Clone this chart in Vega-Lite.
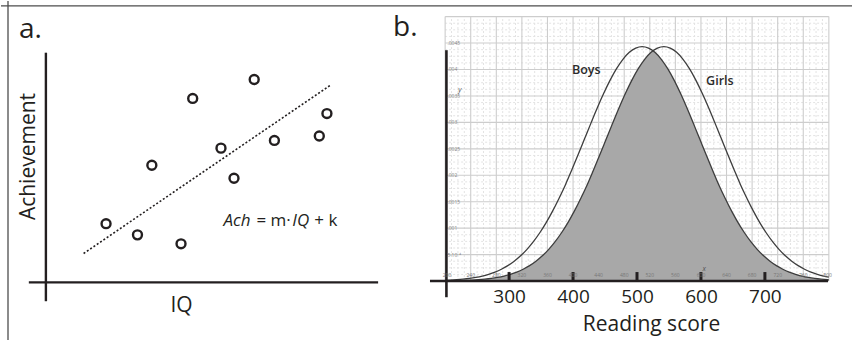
{
  "$schema": "https://vega.github.io/schema/vega-lite/v6.json",
  "width": 853,
  "height": 341,
  "autosize": {"type": "fit", "contains": "padding"},
  "padding": 0,
  "background": "white",
  "config": {"view": {"stroke": null}, "font": "Open Sans", "text": {"font": "Open Sans", "color": "#231f20"}},
  "datasets": {
    "points": [
      {"iq": 73.4, "ach": 23.6}, {"iq": 80.4, "ach": 19.1}, {"iq": 83.6, "ach": 47.1},
      {"iq": 90.1, "ach": 15.5}, {"iq": 92.7, "ach": 74.0}, {"iq": 99.0, "ach": 54.0},
      {"iq": 101.9, "ach": 41.9}, {"iq": 106.4, "ach": 81.6}, {"iq": 110.9, "ach": 57.1},
      {"iq": 120.9, "ach": 58.9}, {"iq": 122.6, "ach": 67.9}
    ],
    "trend": [{"iq": 68.4, "ach": 11.6}, {"iq": 123.6, "ach": 79.6}],
    "frameA": [{"iq": 50, "iq2": 239.556, "ach": 111.2, "ach2": 111.2}, {"iq": 51.56, "iq2": 51.56, "ach": -23.2, "ach2": 113.2}],
    "axesA": [{"iq": 56.2, "iq2": 134, "ach": 0, "ach2": 0}, {"iq": 60, "iq2": 60, "ach": -7.6, "ach2": 92.4}],
    "panelA": [{"label": "a.", "iq": 54, "ach": 98.4}],
    "eqItalic": [{"t": "Ach", "iq": 99.56, "ach": 22.5}, {"t": "IQ", "iq": 114.89, "ach": 22.5}],
    "eqNormal": [{"t": "= m·", "iq": 106.89, "ach": 22.5}, {"t": "+ k", "iq": 119.78, "ach": 22.5}],
    "majorV": [{"score": 200}, {"score": 240}, {"score": 280}, {"score": 320}, {"score": 360}, {"score": 400}, {"score": 440}, {"score": 480}, {"score": 520}, {"score": 560}, {"score": 600}, {"score": 640}, {"score": 680}, {"score": 720}, {"score": 760}, {"score": 800}],
    "minorV": [{"score": 210}, {"score": 220}, {"score": 230}, {"score": 250}, {"score": 260}, {"score": 270}, {"score": 290}, {"score": 300}, {"score": 310}, {"score": 330}, {"score": 340}, {"score": 350}, {"score": 370}, {"score": 380}, {"score": 390}, {"score": 410}, {"score": 420}, {"score": 430}, {"score": 450}, {"score": 460}, {"score": 470}, {"score": 490}, {"score": 500}, {"score": 510}, {"score": 530}, {"score": 540}, {"score": 550}, {"score": 570}, {"score": 580}, {"score": 590}, {"score": 610}, {"score": 620}, {"score": 630}, {"score": 650}, {"score": 660}, {"score": 670}, {"score": 690}, {"score": 700}, {"score": 710}, {"score": 730}, {"score": 740}, {"score": 750}, {"score": 770}, {"score": 780}, {"score": 790}],
    "majorH": [{"density": 0.0005}, {"density": 0.001}, {"density": 0.0015}, {"density": 0.002}, {"density": 0.0025}, {"density": 0.003}, {"density": 0.0035}, {"density": 0.004}, {"density": 0.0045}, {"density": 0.005}],
    "minorH": [{"density": 0.000125}, {"density": 0.00025}, {"density": 0.000375}, {"density": 0.000625}, {"density": 0.00075}, {"density": 0.000875}, {"density": 0.001125}, {"density": 0.00125}, {"density": 0.001375}, {"density": 0.001625}, {"density": 0.00175}, {"density": 0.001875}, {"density": 0.002125}, {"density": 0.00225}, {"density": 0.002375}, {"density": 0.002625}, {"density": 0.00275}, {"density": 0.002875}, {"density": 0.003125}, {"density": 0.00325}, {"density": 0.003375}, {"density": 0.003625}, {"density": 0.00375}, {"density": 0.003875}, {"density": 0.004125}, {"density": 0.00425}, {"density": 0.004375}, {"density": 0.004625}, {"density": 0.00475}, {"density": 0.004875}],
    "curves": [
      {"curve": "Boys", "score": 200, "density": 0.0000127}, {"curve": "Boys", "score": 208, "density": 0.0000171}, {"curve": "Boys", "score": 218, "density": 0.0000247}, {"curve": "Boys", "score": 228, "density": 0.0000351}, {"curve": "Boys", "score": 238, "density": 0.0000492}, {"curve": "Boys", "score": 248, "density": 0.0000683}, {"curve": "Boys", "score": 258, "density": 0.0000936}, {"curve": "Boys", "score": 268, "density": 0.000127}, {"curve": "Boys", "score": 278, "density": 0.000169}, {"curve": "Boys", "score": 288, "density": 0.000223}, {"curve": "Boys", "score": 298, "density": 0.000291}, {"curve": "Boys", "score": 308, "density": 0.000375}, {"curve": "Boys", "score": 318, "density": 0.000477}, {"curve": "Boys", "score": 328, "density": 0.000600}, {"curve": "Boys", "score": 338, "density": 0.000745}, {"curve": "Boys", "score": 348, "density": 0.000913}, {"curve": "Boys", "score": 358, "density": 0.001105}, {"curve": "Boys", "score": 368, "density": 0.001322}, {"curve": "Boys", "score": 378, "density": 0.001562}, {"curve": "Boys", "score": 388, "density": 0.001818}, {"curve": "Boys", "score": 398, "density": 0.002100}, {"curve": "Boys", "score": 408, "density": 0.002391}, {"curve": "Boys", "score": 418, "density": 0.002689}, {"curve": "Boys", "score": 428, "density": 0.002986}, {"curve": "Boys", "score": 438, "density": 0.003276}, {"curve": "Boys", "score": 448, "density": 0.003549}, {"curve": "Boys", "score": 458, "density": 0.003799}, {"curve": "Boys", "score": 468, "density": 0.004016}, {"curve": "Boys", "score": 478, "density": 0.004193}, {"curve": "Boys", "score": 488, "density": 0.004325}, {"curve": "Boys", "score": 498, "density": 0.004405}, {"curve": "Boys", "score": 508, "density": 0.004433}, {"curve": "Boys", "score": 518, "density": 0.004405}, {"curve": "Boys", "score": 528, "density": 0.004325}, {"curve": "Boys", "score": 538, "density": 0.004193}, {"curve": "Boys", "score": 548, "density": 0.004016}, {"curve": "Boys", "score": 558, "density": 0.003799}, {"curve": "Boys", "score": 568, "density": 0.003549}, {"curve": "Boys", "score": 578, "density": 0.003276}, {"curve": "Boys", "score": 588, "density": 0.002986}, {"curve": "Boys", "score": 598, "density": 0.002689}, {"curve": "Boys", "score": 608, "density": 0.002391}, {"curve": "Boys", "score": 618, "density": 0.002100}, {"curve": "Boys", "score": 628, "density": 0.001818}, {"curve": "Boys", "score": 638, "density": 0.001562}, {"curve": "Boys", "score": 648, "density": 0.001322}, {"curve": "Boys", "score": 658, "density": 0.001105}, {"curve": "Boys", "score": 668, "density": 0.000913}, {"curve": "Boys", "score": 678, "density": 0.000745}, {"curve": "Boys", "score": 688, "density": 0.000600}, {"curve": "Boys", "score": 698, "density": 0.000477}, {"curve": "Boys", "score": 708, "density": 0.000375}, {"curve": "Boys", "score": 718, "density": 0.000291}, {"curve": "Boys", "score": 728, "density": 0.000223}, {"curve": "Boys", "score": 738, "density": 0.000169}, {"curve": "Boys", "score": 748, "density": 0.000127}, {"curve": "Boys", "score": 758, "density": 0.0000936}, {"curve": "Boys", "score": 768, "density": 0.0000683}, {"curve": "Boys", "score": 778, "density": 0.0000492}, {"curve": "Boys", "score": 788, "density": 0.0000351}, {"curve": "Boys", "score": 798, "density": 0.0000247}, {"curve": "Boys", "score": 800, "density": 0.0000230},
      {"curve": "Girls", "score": 200, "density": 0.0000032}, {"curve": "Girls", "score": 202, "density": 0.0000035}, {"curve": "Girls", "score": 212, "density": 0.0000053}, {"curve": "Girls", "score": 222, "density": 0.0000080}, {"curve": "Girls", "score": 232, "density": 0.0000118}, {"curve": "Girls", "score": 242, "density": 0.0000171}, {"curve": "Girls", "score": 252, "density": 0.0000247}, {"curve": "Girls", "score": 262, "density": 0.0000351}, {"curve": "Girls", "score": 272, "density": 0.0000492}, {"curve": "Girls", "score": 282, "density": 0.0000683}, {"curve": "Girls", "score": 292, "density": 0.0000936}, {"curve": "Girls", "score": 302, "density": 0.000127}, {"curve": "Girls", "score": 312, "density": 0.000169}, {"curve": "Girls", "score": 322, "density": 0.000223}, {"curve": "Girls", "score": 332, "density": 0.000291}, {"curve": "Girls", "score": 342, "density": 0.000375}, {"curve": "Girls", "score": 352, "density": 0.000477}, {"curve": "Girls", "score": 362, "density": 0.000600}, {"curve": "Girls", "score": 372, "density": 0.000745}, {"curve": "Girls", "score": 382, "density": 0.000913}, {"curve": "Girls", "score": 392, "density": 0.001105}, {"curve": "Girls", "score": 402, "density": 0.001322}, {"curve": "Girls", "score": 412, "density": 0.001562}, {"curve": "Girls", "score": 422, "density": 0.001818}, {"curve": "Girls", "score": 432, "density": 0.002100}, {"curve": "Girls", "score": 442, "density": 0.002391}, {"curve": "Girls", "score": 452, "density": 0.002689}, {"curve": "Girls", "score": 462, "density": 0.002986}, {"curve": "Girls", "score": 472, "density": 0.003276}, {"curve": "Girls", "score": 482, "density": 0.003549}, {"curve": "Girls", "score": 492, "density": 0.003799}, {"curve": "Girls", "score": 502, "density": 0.004016}, {"curve": "Girls", "score": 512, "density": 0.004193}, {"curve": "Girls", "score": 522, "density": 0.004325}, {"curve": "Girls", "score": 532, "density": 0.004405}, {"curve": "Girls", "score": 542, "density": 0.004433}, {"curve": "Girls", "score": 552, "density": 0.004405}, {"curve": "Girls", "score": 562, "density": 0.004325}, {"curve": "Girls", "score": 572, "density": 0.004193}, {"curve": "Girls", "score": 582, "density": 0.004016}, {"curve": "Girls", "score": 592, "density": 0.003799}, {"curve": "Girls", "score": 602, "density": 0.003549}, {"curve": "Girls", "score": 612, "density": 0.003276}, {"curve": "Girls", "score": 622, "density": 0.002986}, {"curve": "Girls", "score": 632, "density": 0.002689}, {"curve": "Girls", "score": 642, "density": 0.002391}, {"curve": "Girls", "score": 652, "density": 0.002100}, {"curve": "Girls", "score": 662, "density": 0.001818}, {"curve": "Girls", "score": 672, "density": 0.001562}, {"curve": "Girls", "score": 682, "density": 0.001322}, {"curve": "Girls", "score": 692, "density": 0.001105}, {"curve": "Girls", "score": 702, "density": 0.000913}, {"curve": "Girls", "score": 712, "density": 0.000745}, {"curve": "Girls", "score": 722, "density": 0.000600}, {"curve": "Girls", "score": 732, "density": 0.000477}, {"curve": "Girls", "score": 742, "density": 0.000375}, {"curve": "Girls", "score": 752, "density": 0.000291}, {"curve": "Girls", "score": 762, "density": 0.000223}, {"curve": "Girls", "score": 772, "density": 0.000169}, {"curve": "Girls", "score": 782, "density": 0.000127}, {"curve": "Girls", "score": 792, "density": 0.0000936}, {"curve": "Girls", "score": 800, "density": 0.0000728}
    ],
    "overlap": [
      {"score": 200, "density": 0.0000032}, {"score": 202, "density": 0.0000035}, {"score": 212, "density": 0.0000053}, {"score": 222, "density": 0.0000080}, {"score": 232, "density": 0.0000118}, {"score": 242, "density": 0.0000171}, {"score": 252, "density": 0.0000247}, {"score": 262, "density": 0.0000351}, {"score": 272, "density": 0.0000492}, {"score": 282, "density": 0.0000683}, {"score": 292, "density": 0.0000936}, {"score": 302, "density": 0.000127}, {"score": 312, "density": 0.000169}, {"score": 322, "density": 0.000223}, {"score": 332, "density": 0.000291}, {"score": 342, "density": 0.000375}, {"score": 352, "density": 0.000477}, {"score": 362, "density": 0.000600}, {"score": 372, "density": 0.000745}, {"score": 382, "density": 0.000913}, {"score": 392, "density": 0.001105}, {"score": 402, "density": 0.001322}, {"score": 412, "density": 0.001562}, {"score": 422, "density": 0.001818}, {"score": 432, "density": 0.002100}, {"score": 442, "density": 0.002391}, {"score": 452, "density": 0.002689}, {"score": 462, "density": 0.002986}, {"score": 472, "density": 0.003276}, {"score": 482, "density": 0.003549}, {"score": 492, "density": 0.003799}, {"score": 502, "density": 0.004016}, {"score": 512, "density": 0.004193}, {"score": 522, "density": 0.004325}, {"score": 525, "density": 0.004354},
      {"score": 528, "density": 0.004325}, {"score": 538, "density": 0.004193}, {"score": 548, "density": 0.004016}, {"score": 558, "density": 0.003799}, {"score": 568, "density": 0.003549}, {"score": 578, "density": 0.003276}, {"score": 588, "density": 0.002986}, {"score": 598, "density": 0.002689}, {"score": 608, "density": 0.002391}, {"score": 618, "density": 0.002100}, {"score": 628, "density": 0.001818}, {"score": 638, "density": 0.001562}, {"score": 648, "density": 0.001322}, {"score": 658, "density": 0.001105}, {"score": 668, "density": 0.000913}, {"score": 678, "density": 0.000745}, {"score": 688, "density": 0.000600}, {"score": 698, "density": 0.000477}, {"score": 708, "density": 0.000375}, {"score": 718, "density": 0.000291}, {"score": 728, "density": 0.000223}, {"score": 738, "density": 0.000169}, {"score": 748, "density": 0.000127}, {"score": 758, "density": 0.0000936}, {"score": 768, "density": 0.0000683}, {"score": 778, "density": 0.0000492}, {"score": 788, "density": 0.0000351}, {"score": 798, "density": 0.0000247}, {"score": 800, "density": 0.0000230}
    ],
    "axesB": [{"score": 176.3, "score2": 798.8, "density": 0, "density2": 0}, {"score": 202, "score2": 202, "density": -0.000306, "density2": 0.004365}],
    "ticksB": [{"score": 300}, {"score": 400}, {"score": 500}, {"score": 600}, {"score": 700}],
    "tinyX": [{"label": "200", "score": 203}, {"label": "240", "score": 240}, {"label": "280", "score": 280}, {"label": "320", "score": 320}, {"label": "360", "score": 360}, {"label": "400", "score": 400}, {"label": "440", "score": 440}, {"label": "480", "score": 480}, {"label": "520", "score": 520}, {"label": "560", "score": 560}, {"label": "600", "score": 600}, {"label": "640", "score": 640}, {"label": "680", "score": 680}, {"label": "720", "score": 720}, {"label": "760", "score": 760}, {"label": "800", "score": 798}],
    "tinyY": [{"label": ".0045", "density": 0.0045}, {"label": ".004", "density": 0.004}, {"label": ".0035", "density": 0.0035}, {"label": ".003", "density": 0.003}, {"label": ".0025", "density": 0.0025}, {"label": ".002", "density": 0.002}, {"label": ".0015", "density": 0.0015}, {"label": ".001", "density": 0.001}, {"label": "5·10⁻⁴", "density": 0.0005}],
    "varLabels": [{"label": "y", "score": 223, "density": 0.00362}, {"label": "x", "score": 605, "density": 0.00022}],
    "groupLabels": [{"label": "Boys", "score": 420.6, "density": 0.003998}, {"label": "Girls", "score": 629.6, "density": 0.003791}],
    "panelB": [{"label": "b.", "score": 118.6, "density": 0.004637}]
  },
  "layer": [
    {
      "data": {"name": "frameA"},
      "mark": {"type": "rule", "color": "#4d4d4d", "strokeWidth": 1.3},
      "encoding": {
        "x": {"field": "iq", "type": "quantitative", "scale": {"domain": [50, 239.556], "nice": false, "zero": false}, "axis": null},
        "x2": {"field": "iq2"},
        "y": {"field": "ach", "type": "quantitative", "scale": {"domain": [-23.2, 113.2], "nice": false, "zero": false}, "axis": null},
        "y2": {"field": "ach2"}
      }
    },
    {
      "data": {"name": "axesA"},
      "mark": {"type": "rule", "color": "#231f20", "strokeWidth": 2.4},
      "encoding": {
        "x": {"field": "iq", "type": "quantitative", "scale": {"domain": [50, 239.556], "nice": false, "zero": false}, "axis": null},
        "x2": {"field": "iq2"},
        "y": {"field": "ach", "type": "quantitative", "scale": {"domain": [-23.2, 113.2], "nice": false, "zero": false}, "axis": null},
        "y2": {"field": "ach2"}
      }
    },
    {
      "data": {"name": "trend"},
      "mark": {"type": "line", "color": "#231f20", "strokeWidth": 1.6, "strokeDash": [2, 2]},
      "encoding": {
        "x": {"field": "iq", "type": "quantitative", "scale": {"domain": [50, 239.556], "nice": false, "zero": false}, "axis": null},
        "y": {"field": "ach", "type": "quantitative", "scale": {"domain": [-23.2, 113.2], "nice": false, "zero": false}, "axis": null}
      }
    },
    {
      "data": {"name": "points"},
      "mark": {"type": "point", "filled": false, "shape": "circle", "size": 80, "strokeWidth": 2.4, "color": "#231f20", "opacity": 1},
      "encoding": {
        "x": {"field": "iq", "type": "quantitative", "scale": {"domain": [50, 239.556], "nice": false, "zero": false}, "axis": {"orient": "bottom", "offset": -58, "domain": false, "ticks": false, "labels": false, "grid": false, "title": "IQ", "titleFontSize": 21, "titleFontWeight": "normal", "titleColor": "#231f20", "titleX": 180, "titlePadding": 12}},
        "y": {"field": "ach", "type": "quantitative", "scale": {"domain": [-23.2, 113.2], "nice": false, "zero": false}, "axis": {"orient": "left", "offset": -45, "domain": false, "ticks": false, "labels": false, "grid": false, "title": "Achievement", "titleFontSize": 21, "titleFontWeight": "normal", "titleColor": "#231f20", "titleY": 155, "titlePadding": 8}}
      }
    },
    {
      "data": {"name": "panelA"},
      "mark": {"type": "text", "fontSize": 28, "align": "left", "baseline": "alphabetic"},
      "encoding": {
        "x": {"field": "iq", "type": "quantitative", "scale": {"domain": [50, 239.556], "nice": false, "zero": false}, "axis": null},
        "y": {"field": "ach", "type": "quantitative", "scale": {"domain": [-23.2, 113.2], "nice": false, "zero": false}, "axis": null},
        "text": {"field": "label"}
      }
    },
    {
      "data": {"name": "eqItalic"},
      "mark": {"type": "text", "fontSize": 17, "fontStyle": "italic", "align": "left", "baseline": "alphabetic"},
      "encoding": {
        "x": {"field": "iq", "type": "quantitative", "scale": {"domain": [50, 239.556], "nice": false, "zero": false}, "axis": null},
        "y": {"field": "ach", "type": "quantitative", "scale": {"domain": [-23.2, 113.2], "nice": false, "zero": false}, "axis": null},
        "text": {"field": "t"}
      }
    },
    {
      "data": {"name": "eqNormal"},
      "mark": {"type": "text", "fontSize": 17, "align": "left", "baseline": "alphabetic"},
      "encoding": {
        "x": {"field": "iq", "type": "quantitative", "scale": {"domain": [50, 239.556], "nice": false, "zero": false}, "axis": null},
        "y": {"field": "ach", "type": "quantitative", "scale": {"domain": [-23.2, 113.2], "nice": false, "zero": false}, "axis": null},
        "text": {"field": "t"}
      }
    },
    {
      "data": {"name": "minorV"},
      "transform": [{"calculate": "0", "as": "lo"}, {"calculate": "0.005", "as": "hi"}],
      "mark": {"type": "rule", "color": "#e3e3e3", "strokeWidth": 1, "strokeDash": [2, 2]},
      "encoding": {
        "x": {"field": "score", "type": "quantitative", "scale": {"domain": [-494.5, 836.2], "nice": false, "zero": false}, "axis": null},
        "y": {"field": "lo", "type": "quantitative", "scale": {"domain": [-0.0011147, 0.0052951], "nice": false, "zero": false}, "axis": null},
        "y2": {"field": "hi"}
      }
    },
    {
      "data": {"name": "minorH"},
      "transform": [{"calculate": "200", "as": "lo"}, {"calculate": "800", "as": "hi"}],
      "mark": {"type": "rule", "color": "#e3e3e3", "strokeWidth": 1, "strokeDash": [2, 2]},
      "encoding": {
        "x": {"field": "lo", "type": "quantitative", "scale": {"domain": [-494.5, 836.2], "nice": false, "zero": false}, "axis": null},
        "x2": {"field": "hi"},
        "y": {"field": "density", "type": "quantitative", "scale": {"domain": [-0.0011147, 0.0052951], "nice": false, "zero": false}, "axis": null}
      }
    },
    {
      "data": {"name": "majorV"},
      "transform": [{"calculate": "0", "as": "lo"}, {"calculate": "0.005", "as": "hi"}],
      "mark": {"type": "rule", "color": "#cdcdcd", "strokeWidth": 1.1},
      "encoding": {
        "x": {"field": "score", "type": "quantitative", "scale": {"domain": [-494.5, 836.2], "nice": false, "zero": false}, "axis": null},
        "y": {"field": "lo", "type": "quantitative", "scale": {"domain": [-0.0011147, 0.0052951], "nice": false, "zero": false}, "axis": null},
        "y2": {"field": "hi"}
      }
    },
    {
      "data": {"name": "majorH"},
      "transform": [{"calculate": "200", "as": "lo"}, {"calculate": "800", "as": "hi"}],
      "mark": {"type": "rule", "color": "#cdcdcd", "strokeWidth": 1.1},
      "encoding": {
        "x": {"field": "lo", "type": "quantitative", "scale": {"domain": [-494.5, 836.2], "nice": false, "zero": false}, "axis": null},
        "x2": {"field": "hi"},
        "y": {"field": "density", "type": "quantitative", "scale": {"domain": [-0.0011147, 0.0052951], "nice": false, "zero": false}, "axis": null}
      }
    },
    {
      "data": {"name": "overlap"},
      "transform": [{"calculate": "0", "as": "base"}],
      "mark": {"type": "area", "color": "#a8a8a8", "opacity": 1, "interpolate": "monotone"},
      "encoding": {
        "x": {"field": "score", "type": "quantitative", "scale": {"domain": [-494.5, 836.2], "nice": false, "zero": false}, "axis": null},
        "y": {"field": "density", "type": "quantitative", "scale": {"domain": [-0.0011147, 0.0052951], "nice": false, "zero": false}, "axis": null},
        "y2": {"field": "base"}
      }
    },
    {
      "data": {"name": "curves"},
      "mark": {"type": "line", "color": "#3d3d3d", "strokeWidth": 1.3, "interpolate": "monotone"},
      "encoding": {
        "detail": {"field": "curve"},
        "x": {"field": "score", "type": "quantitative", "scale": {"domain": [-494.5, 836.2], "nice": false, "zero": false}, "axis": {"orient": "bottom", "offset": -59, "values": [300, 400, 500, 600, 700], "domain": false, "ticks": false, "grid": false, "labelFontSize": 19, "labelColor": "#231f20", "labelPadding": 6, "title": "Reading score", "titleFontSize": 21, "titleFontWeight": "normal", "titleColor": "#231f20", "titleX": 650, "titlePadding": 7}},
        "y": {"field": "density", "type": "quantitative", "scale": {"domain": [-0.0011147, 0.0052951], "nice": false, "zero": false}, "axis": null}
      }
    },
    {
      "data": {"name": "axesB"},
      "mark": {"type": "rule", "color": "#231f20", "strokeWidth": 2.6},
      "encoding": {
        "x": {"field": "score", "type": "quantitative", "scale": {"domain": [-494.5, 836.2], "nice": false, "zero": false}, "axis": null},
        "x2": {"field": "score2"},
        "y": {"field": "density", "type": "quantitative", "scale": {"domain": [-0.0011147, 0.0052951], "nice": false, "zero": false}, "axis": null},
        "y2": {"field": "density2"}
      }
    },
    {
      "data": {"name": "ticksB"},
      "transform": [{"calculate": "0", "as": "lo"}, {"calculate": "0.00017", "as": "hi"}],
      "mark": {"type": "rule", "color": "#231f20", "strokeWidth": 3},
      "encoding": {
        "x": {"field": "score", "type": "quantitative", "scale": {"domain": [-494.5, 836.2], "nice": false, "zero": false}, "axis": null},
        "y": {"field": "lo", "type": "quantitative", "scale": {"domain": [-0.0011147, 0.0052951], "nice": false, "zero": false}, "axis": null},
        "y2": {"field": "hi"}
      }
    },
    {
      "data": {"name": "tinyX"},
      "transform": [{"calculate": "0.00012", "as": "ypos"}],
      "mark": {"type": "text", "fontSize": 5, "color": "#777777", "align": "center", "baseline": "middle"},
      "encoding": {
        "x": {"field": "score", "type": "quantitative", "scale": {"domain": [-494.5, 836.2], "nice": false, "zero": false}, "axis": null},
        "y": {"field": "ypos", "type": "quantitative", "scale": {"domain": [-0.0011147, 0.0052951], "nice": false, "zero": false}, "axis": null},
        "text": {"field": "label"}
      }
    },
    {
      "data": {"name": "tinyY"},
      "transform": [{"calculate": "203.5", "as": "xpos"}],
      "mark": {"type": "text", "fontSize": 5, "color": "#888888", "align": "left", "baseline": "middle"},
      "encoding": {
        "x": {"field": "xpos", "type": "quantitative", "scale": {"domain": [-494.5, 836.2], "nice": false, "zero": false}, "axis": null},
        "y": {"field": "density", "type": "quantitative", "scale": {"domain": [-0.0011147, 0.0052951], "nice": false, "zero": false}, "axis": null},
        "text": {"field": "label"}
      }
    },
    {
      "data": {"name": "varLabels"},
      "mark": {"type": "text", "fontSize": 7, "fontStyle": "italic", "color": "#555555", "align": "center", "baseline": "middle"},
      "encoding": {
        "x": {"field": "score", "type": "quantitative", "scale": {"domain": [-494.5, 836.2], "nice": false, "zero": false}, "axis": null},
        "y": {"field": "density", "type": "quantitative", "scale": {"domain": [-0.0011147, 0.0052951], "nice": false, "zero": false}, "axis": null},
        "text": {"field": "label"}
      }
    },
    {
      "data": {"name": "groupLabels"},
      "mark": {"type": "text", "fontSize": 12.5, "fontWeight": 600, "color": "#2b2b2b", "align": "center", "baseline": "middle"},
      "encoding": {
        "x": {"field": "score", "type": "quantitative", "scale": {"domain": [-494.5, 836.2], "nice": false, "zero": false}, "axis": null},
        "y": {"field": "density", "type": "quantitative", "scale": {"domain": [-0.0011147, 0.0052951], "nice": false, "zero": false}, "axis": null},
        "text": {"field": "label"}
      }
    },
    {
      "data": {"name": "panelB"},
      "mark": {"type": "text", "fontSize": 28, "align": "left", "baseline": "alphabetic"},
      "encoding": {
        "x": {"field": "score", "type": "quantitative", "scale": {"domain": [-494.5, 836.2], "nice": false, "zero": false}, "axis": null},
        "y": {"field": "density", "type": "quantitative", "scale": {"domain": [-0.0011147, 0.0052951], "nice": false, "zero": false}, "axis": null},
        "text": {"field": "label"}
      }
    }
  ],
  "resolve": {"scale": {"x": "independent", "y": "independent"}}
}
